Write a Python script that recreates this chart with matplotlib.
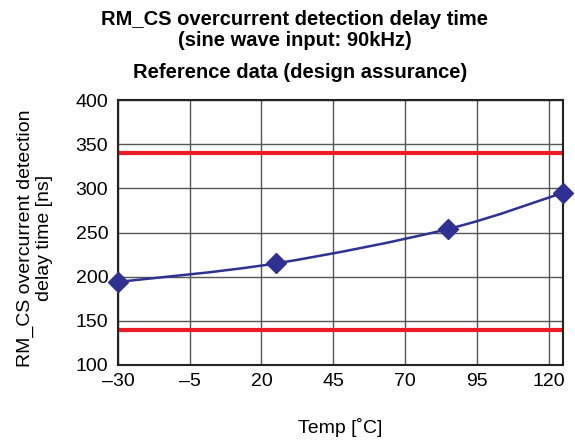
import numpy as np
import matplotlib
matplotlib.use("Agg")
import matplotlib.pyplot as plt
from matplotlib.path import Path
from matplotlib.patches import PathPatch

# data
temp = [-30, 25, 85, 125]
delay = [194, 215, 254, 295]
limit_upper = 340
limit_lower = 140
xticks = [-30, -5, 20, 45, 70, 95, 120]
xtick_labels = ["\u201330", "\u20135", "20", "45", "70", "95", "120"]
yticks = [100, 150, 200, 250, 300, 350, 400]
ylabel_lines = ["RM_CS overcurrent detection", "delay time [ns]"]

plt.rcParams['font.family'] = ['Liberation Sans', 'DejaVu Sans']

fig = plt.figure(figsize=(5.75, 4.45), dpi=100)
ax = fig.add_axes([0.205, 0.18, 0.774, 0.595])

navy = '#2e3192'
red = '#ed1c24'

# smoothed line (Excel style bezier through the points)
pts = np.column_stack([temp, delay]).astype(float)
verts = [tuple(pts[0])]
codes = [Path.MOVETO]
for i in range(len(pts) - 1):
    p0 = pts[i - 1] if i > 0 else pts[i]
    p1 = pts[i]
    p2 = pts[i + 1]
    p3 = pts[i + 2] if i + 2 < len(pts) else pts[i + 1]
    c1 = p1 + (p2 - p0) / 6
    c2 = p2 - (p3 - p1) / 6
    verts += [tuple(c1), tuple(c2), tuple(p2)]
    codes += [Path.CURVE4] * 3
ax.add_patch(PathPatch(Path(verts, codes), fill=False, edgecolor=navy, lw=1.8, zorder=3))
ax.plot(temp, delay, linestyle='none', marker='D', ms=10, color=navy, zorder=4, clip_on=False)

ax.axhline(limit_upper, color=red, lw=3, zorder=2)
ax.axhline(limit_lower, color=red, lw=3, zorder=2)

ax.set_xlim(-30, 125)
ax.set_ylim(100, 400)
ax.set_xticks(xticks)
ax.set_xticklabels(xtick_labels)
ax.set_yticks(yticks)
ax.tick_params(length=0, labelsize=14)
ax.tick_params(axis='y', pad=7)
ax.tick_params(axis='x', pad=6)
ax.grid(True, color='#555555', lw=1)
for s in ax.spines.values():
    s.set_linewidth(1.5)
    s.set_color('#222222')

ax.set_xlabel("Temp [\u02daC]", fontsize=14, labelpad=20)
# two-line y label, each line centred on the same height
for line, xpos in zip(ylabel_lines, [0.044, 0.078]):
    fig.text(xpos, 1 - 238 / 445, line, rotation=90, ha='center', va='center', fontsize=14)

fig.text(0.512, 1 - 30 / 445, "RM_CS overcurrent detection delay time\n(sine wave input: 90kHz)",
         ha='center', va='center', fontsize=14.5, fontweight='bold', linespacing=1.15)
fig.text(0.522, 1 - 73 / 445, "Reference data (design assurance)", ha='center', va='center',
         fontsize=14.5, fontweight='bold')

fig.savefig("out.png", dpi=100)
